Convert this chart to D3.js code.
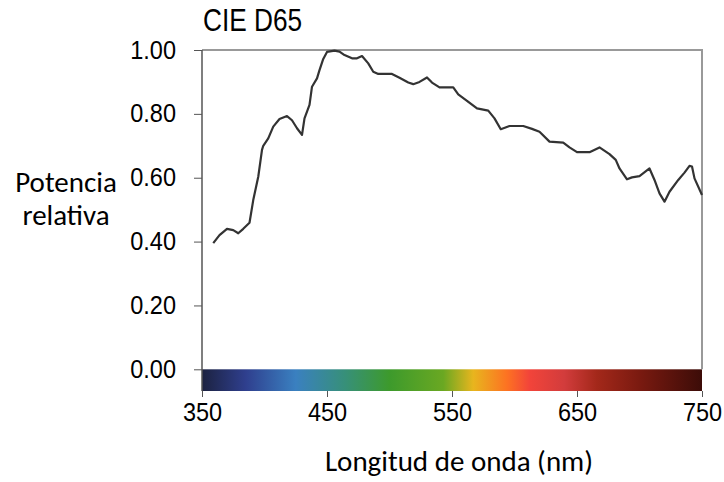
<!DOCTYPE html>
<html lang="es">
<head>
<meta charset="UTF-8">
<title>CIE D65</title>
<script src="https://cdn.jsdelivr.net/npm/d3@7/dist/d3.min.js"></script>
<style>
  body{margin:0;background:#fff;}
  .axis text{font-family:"Liberation Sans",Arial,sans-serif;font-size:25px;fill:#000;}
  .axis line{stroke:#555;}
  .lbl{font-family:Carlito,Lato,"Open Sans",sans-serif;font-size:29px;fill:#000;}
</style>
</head>
<body>
<div id="chart"></div>
<script>
// longitud de onda (nm) y potencia relativa
var wavelength = [359,364,370,375,379,383,388,391,395,398,399,403,407,412,418,422,426,430,432,436,438,442,444,447,450,456,460,464,470,474,478,483,487,491,502,508,515,519,524,530,534,540,551,555,562,570,579,584,589,596,607,614,620,628,639,644,650,660,668,676,681,684,690,694,700,708,712,716,720,724,731,736,740,742,744,750];
var power = [0.395,0.42,0.44,0.436,0.426,0.44,0.459,0.53,0.603,0.687,0.70,0.723,0.76,0.784,0.793,0.78,0.755,0.734,0.786,0.828,0.885,0.911,0.937,0.972,0.994,0.998,0.995,0.984,0.974,0.974,0.981,0.958,0.932,0.925,0.925,0.913,0.898,0.893,0.90,0.914,0.898,0.883,0.883,0.861,0.841,0.817,0.81,0.786,0.752,0.762,0.762,0.753,0.744,0.713,0.71,0.695,0.68,0.68,0.695,0.674,0.656,0.629,0.595,0.601,0.605,0.629,0.593,0.551,0.525,0.556,0.593,0.616,0.637,0.635,0.598,0.546];

var xTicks = [350,450,550,650,750];
var yTicks = [0,0.2,0.4,0.6,0.8,1.0];

// colores de la barra del espectro
var spectrumNm = [350,385,425,465,500,543,567,594,612,640,666,700,750];
var spectrumColors = ["#1c2240","#2f3f8e","#3a80c0","#379078","#3d9a2c","#6aa822","#e8b51e","#fd7222","#f2443a","#d23c3c","#a3281a","#7a1a10","#3c0c08"];

var width = 724, height = 482;
var svg = d3.select("#chart").append("svg")
  .attr("width", width).attr("height", height);

var x = d3.scaleLinear().domain([350,750]).range([202,702]);
var y = d3.scaleLinear().domain([0,1]).range([369.3,50]);
var barBottom = 391;

// gradiente
var grad = svg.append("defs").append("linearGradient")
  .attr("id","spec").attr("x1","0%").attr("x2","100%");
grad.selectAll("stop").data(spectrumNm).enter().append("stop")
  .attr("offset", function(d){ return ((d-350)/400*100)+"%"; })
  .attr("stop-color", function(d,i){ return spectrumColors[i]; });

svg.append("rect")
  .attr("x", x(350)).attr("y", y(0))
  .attr("width", x(750)-x(350)).attr("height", barBottom-y(0))
  .attr("fill","url(#spec)");

// marco superior y derecho
svg.append("path")
  .attr("d","M"+x(350)+","+y(1)+"H"+x(750)+"V"+y(0))
  .attr("fill","none").attr("stroke","#999").attr("stroke-width",2);

// eje y
var yAxis = d3.axisLeft(y).tickValues(yTicks).tickFormat(d3.format(".2f"))
  .tickSize(8).tickPadding(18);
var gy = svg.append("g").attr("class","axis").attr("transform","translate("+x(350)+",0)").call(yAxis);
gy.select(".domain").remove();
// letra algo estrecha como en el original
gy.selectAll(".tick text").each(function(){
  var t = d3.select(this), tx = +t.attr("x");
  t.attr("x", null).attr("transform","translate("+tx+",0) scale(0.94,1)");
});
svg.append("line")
  .attr("x1",x(350)).attr("x2",x(350)).attr("y1",y(1)).attr("y2",barBottom)
  .attr("stroke","#555").attr("stroke-width",1.5);

// eje x
var xAxis = d3.axisBottom(x).tickValues(xTicks).tickFormat(d3.format("d"))
  .tickSize(6).tickPadding(6);
var gx = svg.append("g").attr("class","axis").attr("transform","translate(0,"+barBottom+")").call(xAxis);
gx.select(".domain").remove();
gx.selectAll(".tick text").attr("transform","scale(0.94,1)");

// curva
var line = d3.line()
  .x(function(d,i){ return x(wavelength[i]); })
  .y(function(d){ return y(d); });
svg.append("path").datum(power)
  .attr("d", line)
  .attr("fill","none").attr("stroke","#333").attr("stroke-width",2.2)
  .attr("stroke-linejoin","round");

// textos
svg.append("text")
  .attr("transform","translate(203,31) scale(0.82,1)")
  .style("font-family","'Liberation Sans',Arial,sans-serif").style("font-size","32px")
  .text("CIE D65");

svg.append("text").attr("class","lbl").attr("x",66).attr("y",192)
  .attr("text-anchor","middle").text("Potencia");
svg.append("text").attr("class","lbl").attr("x",66).attr("y",225)
  .attr("text-anchor","middle").text("relativa");

svg.append("text").attr("class","lbl").attr("x",459).attr("y",471)
  .attr("text-anchor","middle").text("Longitud de onda (nm)");
</script>
</body>
</html>
